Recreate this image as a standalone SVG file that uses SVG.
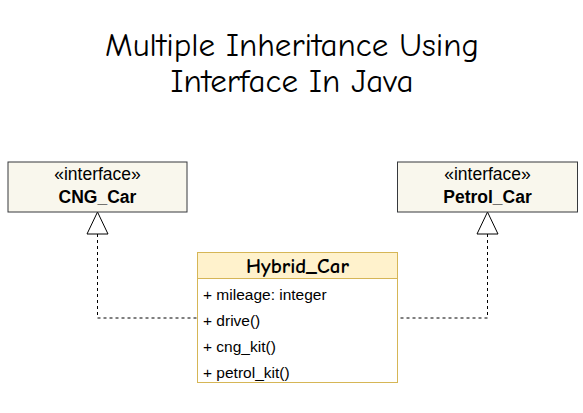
<svg xmlns="http://www.w3.org/2000/svg" width="583" height="413" viewBox="0 0 583 413">
<style>
.title{font-family:"Comic Sans MS","Comic Neue","DejaVu Sans",sans-serif;font-size:33px;fill:#000;text-anchor:middle}
.iface{fill:#f9f7ed;stroke:#36393d;stroke-width:1}
.st{font-family:"Liberation Sans",Arial,sans-serif;font-size:17.5px;fill:#000;text-anchor:middle}
.nm{font-family:"Liberation Sans",Arial,sans-serif;font-size:17.5px;font-weight:bold;fill:#000;text-anchor:middle}
.mem{font-family:"Liberation Sans",Arial,sans-serif;font-size:15.5px;fill:#000}
.conn{fill:none;stroke:#000;stroke-width:1;stroke-dasharray:3 3}
.tri{fill:#fff;stroke:#000;stroke-width:1}
</style>
<rect width="583" height="413" fill="#fff"/>
<text class="title" x="292" y="56">Multiple Inheritance Using</text>
<text class="title" x="292" y="92">Interface In Java</text>
<g id="connectors">
<path class="conn" d="M97.5 234 V318 H197"/>
<polygon class="tri" points="97.5,212 87,234 108,234"/>
<path class="conn" d="M487.5 234 V318 H397"/>
<polygon class="tri" points="487.5,212 477,234 498,234"/>
</g>
<g id="cng_car">
<rect class="iface" x="8" y="162" width="179" height="50"/>
<text class="st" x="97.5" y="180">«interface»</text>
<text class="nm" x="97.5" y="203">CNG_Car</text>
</g>
<g id="petrol_car">
<rect class="iface" x="397.5" y="162" width="180" height="50"/>
<text class="st" x="487.5" y="180">«interface»</text>
<text class="nm" x="487.5" y="203">Petrol_Car</text>
</g>
<g id="hybrid_car">
<rect x="197.5" y="252.5" width="200" height="130" fill="#fff" stroke="#d6b656"/>
<rect x="197.5" y="252.5" width="200" height="26" fill="#fff2cc" stroke="#d6b656"/>
<text x="297.5" y="273" text-anchor="middle" font-family="'Comic Sans MS','Comic Neue','DejaVu Sans',sans-serif" font-size="21" font-weight="bold">Hybrid_Car</text>
<text class="mem" x="203" y="300">+ mileage: integer</text>
<text class="mem" x="203" y="326">+ drive()</text>
<text class="mem" x="203" y="352">+ cng_kit()</text>
<text class="mem" x="203" y="378">+ petrol_kit()</text>
</g>
</svg>
